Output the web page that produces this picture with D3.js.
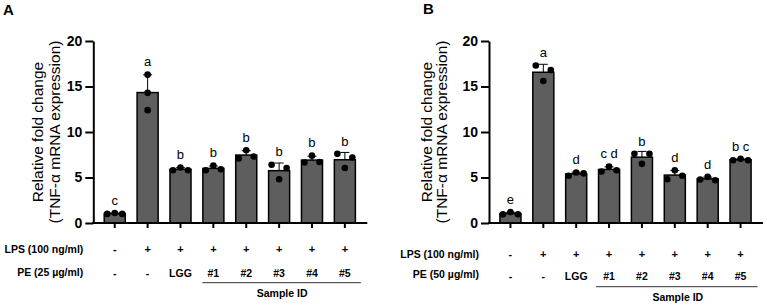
<!DOCTYPE html>
<html>
<head>
<meta charset="utf-8">
<script src="https://cdn.jsdelivr.net/npm/d3@7"></script>
<style>
  body { margin: 0; background: #fff; }
  text { font-family: "Liberation Sans", Arial, sans-serif; }
</style>
</head>
<body>
<script>
// groups on the x axis
var groups = ["ctrl", "LPS", "LGG", "#1", "#2", "#3", "#4", "#5"];
var lpsRow = ["-", "+", "+", "+", "+", "+", "+", "+"];
var peRow = ["-", "-", "LGG", "#1", "#2", "#3", "#4", "#5"];
var yTicks = [0, 5, 10, 15, 20];

// replicate values (3 per group), panel A = PE 25 ug/ml
var valuesA = [
  [1.1, 1.0, 1.0],
  [14.3, 16.3, 12.4],
  [6.1, 5.8, 5.8],
  [6.3, 5.8, 5.9],
  [8.0, 7.1, 7.3],
  [4.8, 6.4, 6.05],
  [7.4, 6.65, 6.7],
  [6.05, 7.6, 7.2]
];
var lettersA = ["c", "a", "b", "b", "b", "b", "b", "b"];

// panel B = PE 50 ug/ml
var valuesB = [
  [1.2, 0.95, 0.95],
  [15.6, 17.3, 16.8],
  [5.55, 5.2, 5.45],
  [6.2, 5.65, 5.8],
  [6.5, 7.6, 7.6],
  [5.8, 4.8, 5.2],
  [5.07, 4.78, 4.7],
  [7.05, 6.9, 6.9]
];
var lettersB = ["e", "a", "d", "c d", "b", "d", "d", "b c"];

var W = 767, H = 306;
var svg = d3.select("body").append("svg").attr("width", W).attr("height", H);

var panels = [
  {tag: "A", tagX: 3, tagY: 15, x0: 93.3, values: valuesA, letters: lettersA, pe: "PE (25 µg/ml)",
   t1: -50, t2: -33, lpsY: 252.7, peY: 276, peValY: 276.7, lineY: 282.7, lineX: [-11, 16], sidY: 296.7},
  {tag: "B", tagX: 423, tagY: 14, x0: 489, values: valuesB, letters: lettersB, pe: "PE (50 µg/ml)",
   t1: -57, t2: -42, lpsY: 258, peY: 277.7, peValY: 279.5, lineY: 286.7, lineX: [-13, 17], sidY: 300.7}
];

var y = d3.scaleLinear().domain([0, 20]).range([223, 41]);
var r = 3.3;        // dot radius
var slot = 7.5;     // horizontal spread for overlapping dots
var clash = 16.3;   // px closeness that pushes a dot sideways

// simple column scatter: put a dot in the centre unless it overlaps another dot there
function spread(vals) {
  var placed = [];
  var order = [0, -1, 1, -2, 2];
  return vals.map(function(v) {
    var py = y(v);
    for (var k = 0; k < order.length; k++) {
      var s = order[k];
      var hit = placed.some(function(p) { return p.s === s && Math.abs(p.py - py) < clash; });
      if (!hit) { placed.push({s: s, py: py}); return {v: v, s: s}; }
    }
    return {v: v, s: 0};
  });
}

panels.forEach(function(P) {
  var g = svg.append("g");
  var x = d3.scaleBand().domain(groups)
      .range([P.x0 + 5, P.x0 + 268]).paddingInner(0.36).paddingOuter(0.18);
  var bw = x.bandwidth();
  var cx = function(d) { return x(d) + bw / 2; };

  var stats = P.values.map(function(v, i) {
    return {g: groups[i], mean: d3.mean(v), sd: d3.deviation(v), pts: spread(v), letter: P.letters[i], max: d3.max(v)};
  });

  // panel tag
  svg.append("text").attr("x", P.tagX).attr("y", P.tagY)
    .attr("font-size", 15).attr("font-weight", "bold").text(P.tag);

  // bars
  g.selectAll("rect.bar").data(stats).enter().append("rect")
    .attr("x", function(d) { return x(d.g); })
    .attr("y", function(d) { return y(d.mean); })
    .attr("width", bw)
    .attr("height", function(d) { return y(0) - y(d.mean); })
    .attr("fill", "#5e5e5e").attr("stroke", "#000").attr("stroke-width", 1.5);

  // error bars (upper only)
  g.selectAll("line.err").data(stats).enter().append("line")
    .attr("x1", function(d) { return cx(d.g); }).attr("x2", function(d) { return cx(d.g); })
    .attr("y1", function(d) { return y(d.mean); }).attr("y2", function(d) { return y(d.mean + d.sd); })
    .attr("stroke", "#000").attr("stroke-width", 1);
  g.selectAll("line.cap").data(stats).enter().append("line")
    .attr("x1", function(d) { return cx(d.g) - 4.5; }).attr("x2", function(d) { return cx(d.g) + 4.5; })
    .attr("y1", function(d) { return y(d.mean + d.sd); }).attr("y2", function(d) { return y(d.mean + d.sd); })
    .attr("stroke", "#000").attr("stroke-width", 1);

  // dots
  stats.forEach(function(d) {
    g.selectAll(null).data(d.pts).enter().append("circle")
      .attr("cx", function(p) { return cx(d.g) + p.s * slot; })
      .attr("cy", function(p) { return y(p.v); })
      .attr("r", r).attr("fill", "#000");
  });

  // significance letters
  g.selectAll("text.let").data(stats).enter().append("text")
    .attr("x", function(d) { return cx(d.g); })
    .attr("y", function(d) { return Math.min(y(d.max) - r, y(d.mean + d.sd)) - 5; })
    .attr("text-anchor", "middle").attr("font-size", 13).text(function(d) { return d.letter; });

  // y axis
  var yAxis = d3.axisLeft(y).tickValues(yTicks).tickSize(8).tickPadding(3).tickSizeOuter(0);
  var ya = g.append("g").attr("transform", "translate(" + P.x0 + ",0)").call(yAxis);
  ya.select(".domain").attr("stroke-width", 2);
  ya.selectAll(".tick line").attr("stroke-width", 2);
  ya.selectAll(".tick text").attr("font-size", 14).attr("font-weight", "bold")
    .attr("font-family", "Liberation Sans, Arial, sans-serif").attr("fill", "#000");

  // x axis with ticks at bar centres
  var xAxis = d3.axisBottom(x).tickSize(5).tickFormat("").tickSizeOuter(0);
  var xa = g.append("g").attr("transform", "translate(0," + y(0) + ")").call(xAxis);
  xa.select(".domain").attr("d", "M" + (P.x0 - 1) + ",0H" + (P.x0 + 274)).attr("stroke-width", 2);
  xa.selectAll(".tick line").attr("stroke-width", 2);

  // y title
  var tx = P.x0, ty = (y(0) + y(20)) / 2;
  g.append("text").attr("transform", "translate(" + (tx + P.t1) + "," + ty + ") rotate(-90)")
    .attr("text-anchor", "middle").attr("font-size", 15.5).text("Relative fold change");
  g.append("text").attr("transform", "translate(" + (tx + P.t2) + "," + ty + ") rotate(-90)")
    .attr("text-anchor", "middle").attr("font-size", 15.5).text("(TNF-α mRNA expression)");

  // treatment rows
  g.append("text").attr("x", P.x0 - 10).attr("y", P.lpsY).attr("text-anchor", "end")
    .attr("font-size", 10.5).attr("font-weight", "bold").text("LPS (100 ng/ml)");
  g.append("text").attr("x", P.x0 - 10).attr("y", P.peY).attr("text-anchor", "end")
    .attr("font-size", 10.5).attr("font-weight", "bold").text(P.pe);
  g.selectAll("text.lps").data(lpsRow).enter().append("text")
    .attr("x", function(d, i) { return cx(groups[i]); }).attr("y", P.lpsY)
    .attr("text-anchor", "middle").attr("font-size", 11).attr("font-weight", "bold").text(function(d) { return d; });
  g.selectAll("text.pe").data(peRow).enter().append("text")
    .attr("x", function(d, i) { return cx(groups[i]); }).attr("y", P.peValY)
    .attr("text-anchor", "middle").attr("font-size", 10.5).attr("font-weight", "bold").text(function(d) { return d; });

  // sample ID bracket
  g.append("line")
    .attr("x1", cx("#1") + P.lineX[0]).attr("x2", cx("#5") + P.lineX[1])
    .attr("y1", P.lineY).attr("y2", P.lineY).attr("stroke", "#333").attr("stroke-width", 1);
  g.append("text").attr("x", (cx("#1") + cx("#5")) / 2 + 3).attr("y", P.sidY)
    .attr("text-anchor", "middle").attr("font-size", 10.5).attr("font-weight", "bold").text("Sample ID");
});
</script>
</body>
</html>
